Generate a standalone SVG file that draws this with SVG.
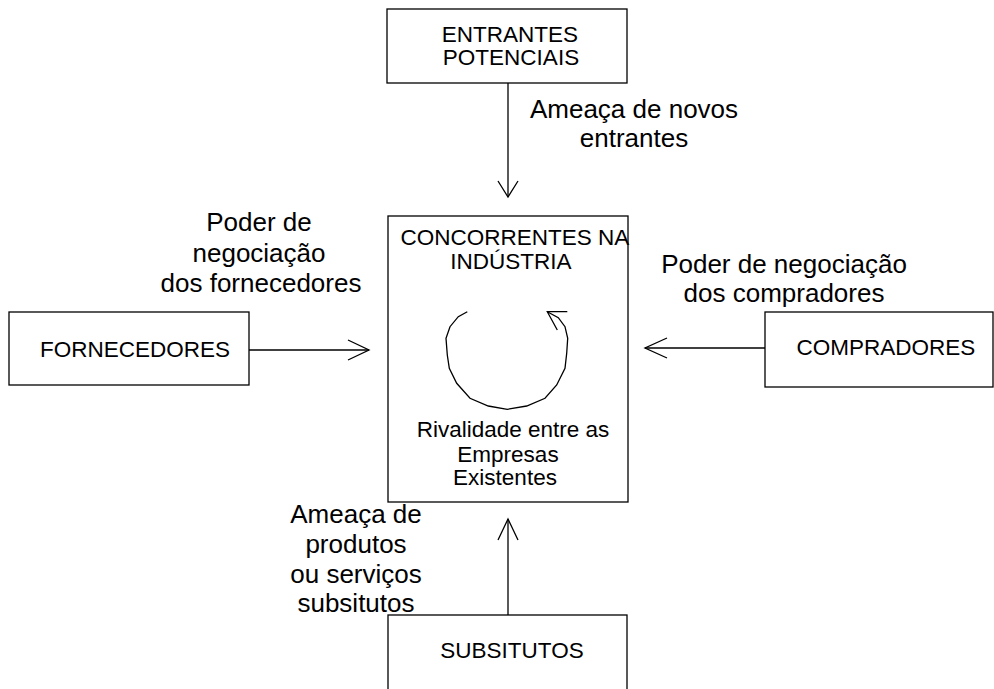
<svg xmlns="http://www.w3.org/2000/svg" width="994" height="689" viewBox="0 0 994 689">
<style>
.box{fill:#fff;stroke:#000;stroke-width:1.3}
.ln{fill:none;stroke:#000;stroke-width:1.3}
.t{font-family:"Liberation Sans",Arial,sans-serif;font-size:22.5px;fill:#000;text-anchor:middle}
.l{font-family:"Liberation Sans",Arial,sans-serif;font-size:26px;fill:#000;text-anchor:middle}
</style>
<rect width="994" height="689" fill="#fff"/>
<g id="entrantes">
<rect class="box" x="387" y="9" width="240" height="74"/>
<text class="t" x="510" y="42">ENTRANTES</text>
<text class="t" x="511" y="65">POTENCIAIS</text>
</g>
<g id="concorrentes">
<rect class="box" x="388" y="216" width="240" height="286"/>
<text class="t" x="515" y="245">CONCORRENTES NA</text>
<text class="t" x="511" y="269">INDÚSTRIA</text>
<polyline class="ln" points="467.3,311.7 458.3,316.7 450,326.7 446,338.3 447.3,355 449.3,368.3 456.7,383.3 470,398.3 488.3,406 507.3,409.3 526.7,406 545,398.3 556.7,385 565,368.3 566.7,353.3 567.7,338.3 565,326.7 558.3,317.7 547.3,311.7"/>
<polyline class="ln" points="567.3,311.7 547.3,311.7 557.3,330"/>
<text class="t" x="513" y="437">Rivalidade entre as</text>
<text class="t" x="508" y="462">Empresas</text>
<text class="t" x="505" y="485">Existentes</text>
</g>
<g id="fornecedores">
<rect class="box" x="9" y="312" width="240" height="73"/>
<text class="t" x="135" y="357">FORNECEDORES</text>
</g>
<g id="compradores">
<rect class="box" x="765" y="312" width="228" height="75"/>
<text class="t" x="886" y="355">COMPRADORES</text>
</g>
<g id="substitutos">
<rect class="box" x="388" y="615" width="239" height="80"/>
<text class="t" x="512" y="658">SUBSITUTOS</text>
</g>
<g id="connectors">
<line class="ln" x1="508" y1="83" x2="508" y2="197"/>
<polyline class="ln" points="498,181 508,197 518,181"/>
<line class="ln" x1="249" y1="350" x2="369" y2="350"/>
<polyline class="ln" points="348,340 369,350 348,360"/>
<line class="ln" x1="765" y1="348" x2="645" y2="348"/>
<polyline class="ln" points="667,338 645,348 667,358"/>
<line class="ln" x1="508" y1="615" x2="508" y2="519"/>
<polyline class="ln" points="498,540 508,519 518,540"/>
</g>
<g id="labels">
<text class="l" x="634" y="118">Ameaça de novos</text>
<text class="l" x="634" y="147">entrantes</text>
<text class="l" x="259" y="231">Poder de</text>
<text class="l" x="259" y="262">negociação</text>
<text class="l" x="261" y="292">dos fornecedores</text>
<text class="l" x="784" y="273">Poder de negociação</text>
<text class="l" x="784" y="302">dos compradores</text>
<text class="l" x="356" y="523">Ameaça de</text>
<text class="l" x="356" y="553">produtos</text>
<text class="l" x="356" y="583">ou serviços</text>
<text class="l" x="356" y="612">subsitutos</text>
</g>
</svg>
